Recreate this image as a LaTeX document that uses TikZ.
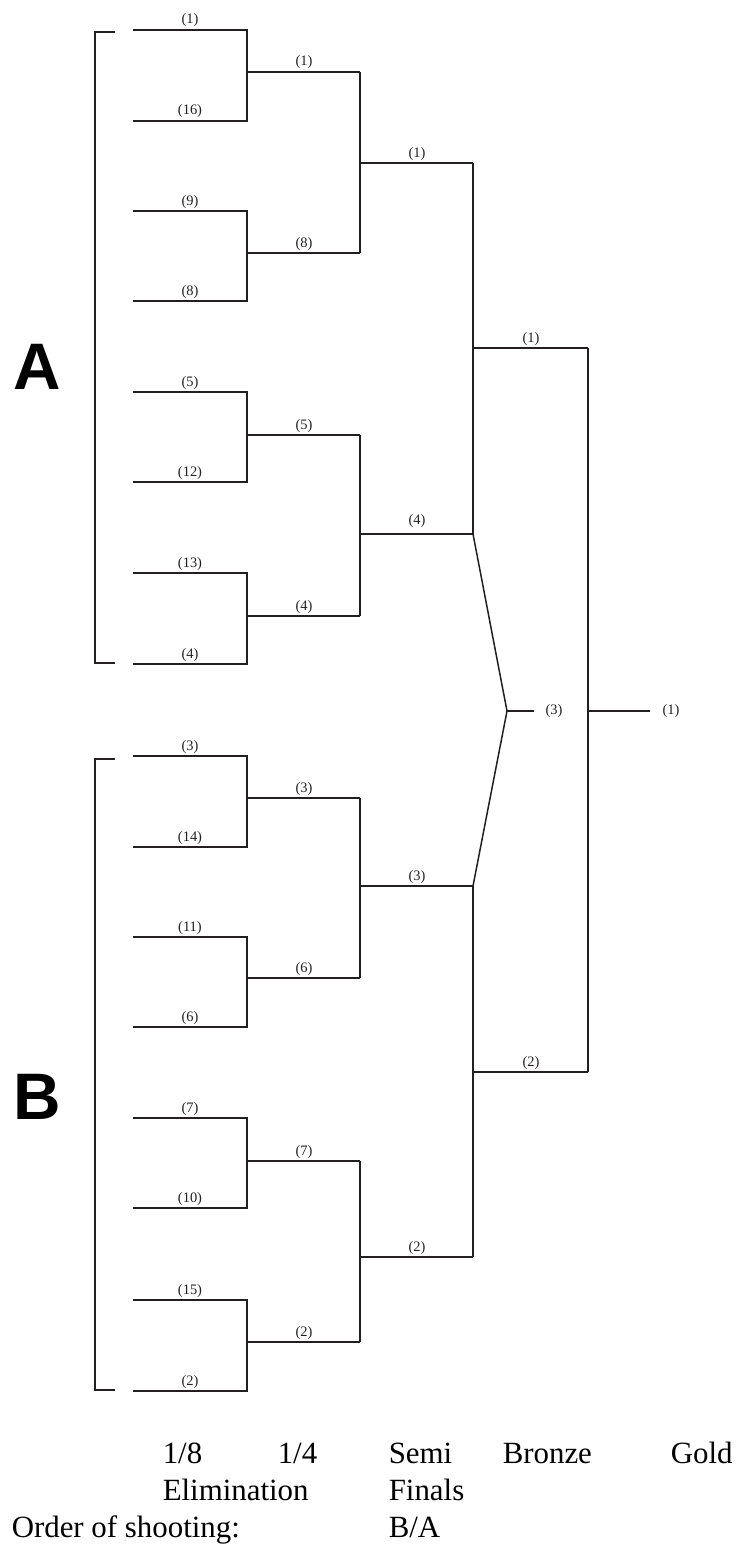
\documentclass[tikz,border=0pt]{standalone}
\usepackage{fontspec}
\setmainfont{Liberation Serif}
\newfontfamily\grpfont{Liberation Sans}
\definecolor{ink}{HTML}{231F20}
\begin{document}
\begin{tikzpicture}[x=1bp,y=-1bp,line width=1.5bp,draw=ink,
  lbl/.style={font=\fontsize{14.5}{16}\selectfont,anchor=base,inner sep=0pt,text=ink},
  big/.style={font=\fontsize{31}{37}\selectfont,anchor=base west,inner sep=0pt,text=black},
  grp/.style={font=\grpfont\bfseries\fontsize{66}{70}\selectfont,inner sep=0pt,text=black}]
\useasboundingbox (0,0) rectangle (738,1544);
% group brackets
\draw (115,32) -- (95,32) -- (95,663) -- (115,663);
\draw (115,759) -- (95,759) -- (95,1390) -- (115,1390);
\node[grp] (gA) at (37,367) {A};
\node[grp] (gB) at (37,1097) {B};
% round of 16 (1/8) -> quarter (1/4)
\foreach \ya/\yb/\la/\lb/\yq/\lq in {30/121/1/16/72/1, 211/301/9/8/253/8, 392/482/5/12/435/5, 573/664/13/4/616/4,
  756/847/3/14/798/3, 937/1027/11/6/978/6, 1118/1208/7/10/1161/7, 1300/1391/15/2/1342/2}{
  \draw (133,\ya) -- (247,\ya) -- (247,\yb) -- (133,\yb);
  \draw (247,\yq) -- (360,\yq);
  \node[lbl] at (190,\ya-6) {(\la)};
  \node[lbl] at (190,\yb-6) {(\lb)};
  \node[lbl] at (304,\yq-6) {(\lq)};
}
% quarter -> semi
\foreach \ya/\yb/\ys/\ls/\off in {72/253/163/1/6, 435/616/534/4/10, 798/978/886/3/6, 1161/1342/1257/2/6}{
  \draw (360,\ya) -- (360,\yb);
  \draw (360,\ys) -- (473,\ys);
  \node[lbl] at (417,\ys-\off) {(\ls)};
}
% semi -> finals
\draw (473,163) -- (473,534);
\draw (473,886) -- (473,1257);
\draw (473,348) -- (588,348);
\draw (473,1072) -- (588,1072);
\node[lbl] at (531,342) {(1)};
\node[lbl] at (531,1066) {(2)};
% gold
\draw (588,348) -- (588,1072);
\coordinate (gold) at (588,711);
\coordinate (goldend) at (650,711);
\draw (gold) -- (goldend);
\node[lbl,anchor=center] (goldlbl) at (671,711) {(1)};
% bronze
\coordinate (bA) at (473,534);
\coordinate (bB) at (473,886);
\coordinate (bronze) at (507,711);
\coordinate (bronzeend) at (534,711);
\draw (bA) -- (bronze) -- (bB);
\draw (bronze) -- (bronzeend);
\node[lbl,anchor=center] (bronzelbl) at (554,711) {(3)};
% captions
\node[big] (c1) at (162,1463) {1/8};
\node[big] (c2) at (277,1463) {1/4};
\node[big] (c3) at (388,1463) {Semi};
\node[big] (c4) at (502,1463) {Bronze};
\node[big] (c5) at (670,1463) {Gold};
\node[big] (c6) at (162,1500) {Elimination};
\node[big] (c7) at (388,1500) {Finals};
\node[big] (c8) at (11,1537) {Order of shooting:};
\node[big] (c9) at (388,1537) {B/A};
\end{tikzpicture}
\end{document}
